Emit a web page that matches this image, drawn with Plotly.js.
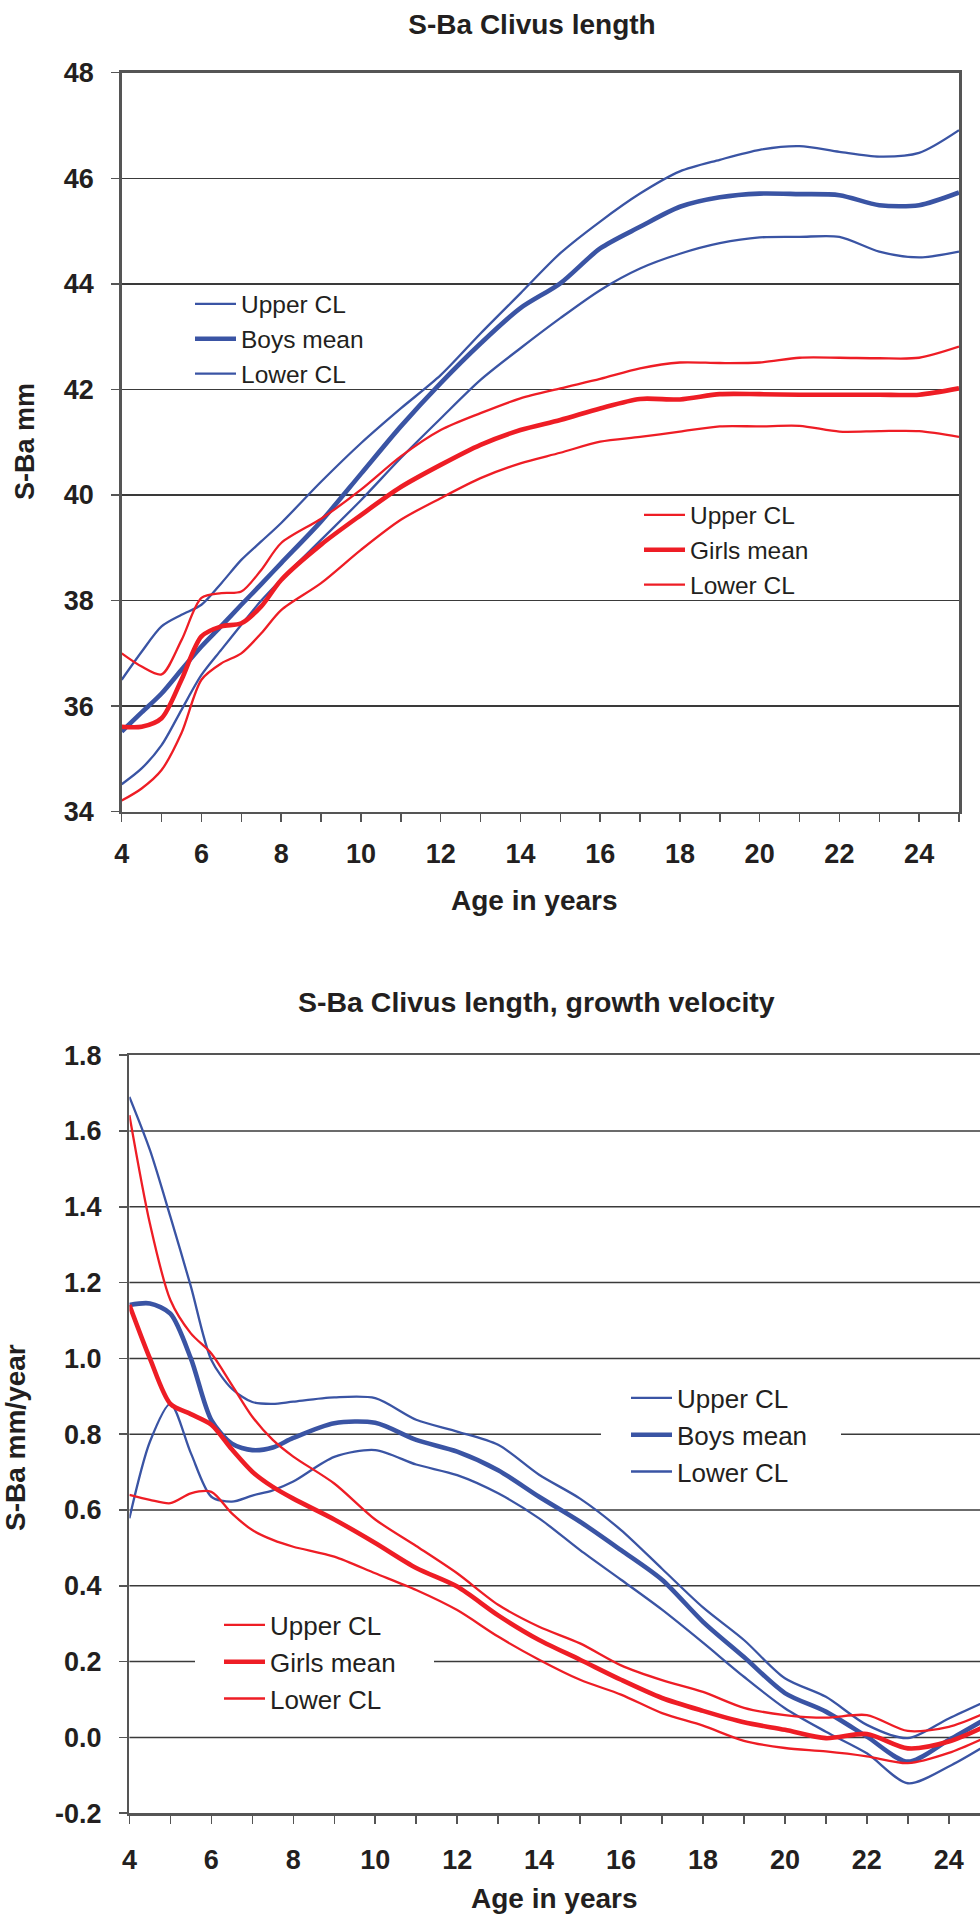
<!DOCTYPE html>
<html>
<head>
<meta charset="utf-8">
<script src="https://cdn.plot.ly/plotly-3.0.1.min.js"></script>
<style>
  html, body { margin: 0; padding: 0; background: #ffffff; }
  #chart { width: 980px; height: 1915px; }
</style>
</head>
<body>
<div id="chart"></div>
<script>
// ---- Data ----
const ages = [4, 4.5, 5, 5.5, 6, 6.5, 7, 7.5, 8, 9, 10, 11, 12, 13, 14, 15, 16, 17, 18, 19, 20, 21, 22, 23, 24, 25];

// S-Ba Clivus length (mm)
const boysUpper  = [36.5, 37.03, 37.51, 37.73, 37.92, 38.33, 38.77, 39.12, 39.47, 40.25, 40.98, 41.64, 42.27, 43.06, 43.82, 44.58, 45.18, 45.71, 46.13, 46.35, 46.54, 46.61, 46.5, 46.41, 46.48, 46.91];
const boysMean   = [35.52, 35.88, 36.24, 36.69, 37.13, 37.52, 37.92, 38.31, 38.71, 39.5, 40.4, 41.3, 42.12, 42.87, 43.54, 44.01, 44.67, 45.08, 45.46, 45.64, 45.71, 45.7, 45.68, 45.49, 45.49, 45.73];
const boysLower  = [34.52, 34.82, 35.26, 35.93, 36.59, 37.07, 37.54, 38.0, 38.4, 39.15, 39.9, 40.7, 41.45, 42.18, 42.78, 43.35, 43.88, 44.29, 44.57, 44.77, 44.88, 44.89, 44.89, 44.61, 44.5, 44.61];
const girlsUpper = [37.0, 36.75, 36.6, 37.25, 38.05, 38.14, 38.17, 38.58, 39.09, 39.55, 40.1, 40.73, 41.23, 41.55, 41.83, 42.02, 42.2, 42.4, 42.51, 42.5, 42.51, 42.6, 42.6, 42.59, 42.6, 42.81];
const girlsMean  = [35.61, 35.61, 35.77, 36.5, 37.32, 37.51, 37.57, 37.89, 38.39, 39.06, 39.62, 40.15, 40.57, 40.95, 41.23, 41.42, 41.64, 41.82, 41.81, 41.91, 41.91, 41.9, 41.9, 41.9, 41.9, 42.02];
const girlsLower = [34.21, 34.44, 34.79, 35.49, 36.5, 36.81, 37.0, 37.38, 37.82, 38.33, 38.96, 39.53, 39.94, 40.32, 40.6, 40.8, 41.01, 41.1, 41.2, 41.3, 41.3, 41.31, 41.2, 41.21, 41.21, 41.1];

// Growth velocity (mm/year)
const velBoysUpper  = [1.69, 1.55, 1.374, 1.19, 0.996, 0.92, 0.885, 0.88, 0.886, 0.897, 0.895, 0.838, 0.807, 0.772, 0.693, 0.63, 0.547, 0.445, 0.343, 0.257, 0.156, 0.107, 0.033, -0.002, 0.05, 0.1];
const velBoysMean   = [1.141, 1.145, 1.118, 1.0, 0.837, 0.775, 0.758, 0.765, 0.79, 0.829, 0.83, 0.785, 0.754, 0.705, 0.635, 0.569, 0.494, 0.416, 0.305, 0.212, 0.117, 0.068, 0.002, -0.064, -0.007, 0.055];
const velBoysLower  = [0.578, 0.78, 0.88, 0.75, 0.635, 0.622, 0.638, 0.652, 0.675, 0.74, 0.758, 0.72, 0.692, 0.644, 0.578, 0.494, 0.416, 0.337, 0.25, 0.16, 0.077, 0.015, -0.042, -0.121, -0.077, -0.015];
const velGirlsUpper = [1.642, 1.356, 1.154, 1.066, 1.013, 0.93, 0.846, 0.785, 0.741, 0.67, 0.575, 0.505, 0.433, 0.35, 0.292, 0.248, 0.19, 0.151, 0.12, 0.078, 0.059, 0.052, 0.059, 0.017, 0.028, 0.07];
const velGirlsMean  = [1.141, 1.0, 0.88, 0.853, 0.825, 0.76, 0.701, 0.661, 0.63, 0.575, 0.513, 0.447, 0.398, 0.322, 0.257, 0.205, 0.152, 0.104, 0.07, 0.04, 0.02, -0.002, 0.009, -0.029, -0.011, 0.035];
const velGirlsLower = [0.64, 0.627, 0.618, 0.644, 0.648, 0.591, 0.547, 0.521, 0.503, 0.477, 0.433, 0.389, 0.336, 0.266, 0.205, 0.152, 0.113, 0.064, 0.031, -0.009, -0.028, -0.037, -0.05, -0.068, -0.041, 0.005];

// Tick labels
const xTickVals = [4, 6, 8, 10, 12, 14, 16, 18, 20, 22, 24];
const xTickText = ['4', '6', '8', '10', '12', '14', '16', '18', '20', '22', '24'];
const lenTickVals = [34, 36, 38, 40, 42, 44, 46, 48];
const lenTickText = ['34', '36', '38', '40', '42', '44', '46', '48'];
const velTickVals = [-0.2, 0, 0.2, 0.4, 0.6, 0.8, 1.0, 1.2, 1.4, 1.6, 1.8];
const velTickText = ['-0.2', '0.0', '0.2', '0.4', '0.6', '0.8', '1.0', '1.2', '1.4', '1.6', '1.8'];

// ---- Styles ----
const BLUE = '#3a54a4';
const RED = '#ee1d25';
const TXT = '#231f20';
const GRID = '#3a3a3a';
const FONT = 'Liberation Sans, Arial, Helvetica, sans-serif';
const THIN = 2.3, THICK = 4.6;

function tr(y, name, color, width, xa, ya, legend, group) {
  return {
    x: ages, y: y, name: name, type: 'scatter', mode: 'lines',
    line: { color: color, width: width, shape: 'spline', smoothing: 0.8 },
    xaxis: xa, yaxis: ya, legend: legend, legendgroup: group,
    hoverinfo: 'skip'
  };
}

const data = [
  tr(boysUpper, 'Upper CL', BLUE, THIN, 'x', 'y', 'legend', 'a1'),
  tr(boysMean, 'Boys mean', BLUE, THICK, 'x', 'y', 'legend', 'a2'),
  tr(boysLower, 'Lower CL', BLUE, THIN, 'x', 'y', 'legend', 'a3'),
  tr(girlsUpper, 'Upper CL', RED, THIN, 'x', 'y', 'legend2', 'b1'),
  tr(girlsMean, 'Girls mean', RED, THICK, 'x', 'y', 'legend2', 'b2'),
  tr(girlsLower, 'Lower CL', RED, THIN, 'x', 'y', 'legend2', 'b3'),
  tr(velBoysUpper, 'Upper CL', BLUE, THIN, 'x2', 'y2', 'legend3', 'c1'),
  tr(velBoysMean, 'Boys mean', BLUE, THICK, 'x2', 'y2', 'legend3', 'c2'),
  tr(velBoysLower, 'Lower CL', BLUE, THIN, 'x2', 'y2', 'legend3', 'c3'),
  tr(velGirlsUpper, 'Upper CL', RED, THIN, 'x2', 'y2', 'legend4', 'd1'),
  tr(velGirlsMean, 'Girls mean', RED, THICK, 'x2', 'y2', 'legend4', 'd2'),
  tr(velGirlsLower, 'Lower CL', RED, THIN, 'x2', 'y2', 'legend4', 'd3')
];

const W = 980, H = 1915;
const px = v => v / W;
const py = v => 1 - v / H;

const tickFont = { family: FONT, size: 27, color: TXT, weight: 700 };

function xAxis(domain, range, standoff, anchor) {
  return {
    domain: domain, range: range, anchor: anchor,
    tickvals: xTickVals, ticktext: xTickText,
    ticks: 'outside', ticklen: 8, tickwidth: 1.5, tickcolor: '#555555',
    minor: { dtick: 1, tick0: 4, ticks: 'outside', ticklen: 8, tickwidth: 1.5, tickcolor: '#555555', showgrid: false },
    showline: true, linecolor: '#555555', linewidth: 2.5, mirror: true,
    showgrid: false, zeroline: false,
    tickfont: tickFont, ticklabelstandoff: standoff, fixedrange: true
  };
}
function yAxis(domain, range, vals, text, anchor, mirror, grid) {
  return {
    domain: domain, range: range, anchor: anchor,
    tickvals: vals, ticktext: text,
    ticks: 'outside', ticklen: 8, tickwidth: 1.5, tickcolor: '#555555',
    showline: true, linecolor: '#555555', linewidth: 2.5, mirror: mirror,
    showgrid: grid, gridcolor: GRID, gridwidth: 1.5, zeroline: false,
    tickfont: tickFont, ticklabelstandoff: 12, fixedrange: true
  };
}

function legendObj(x, y, size, gap) {
  return {
    x: px(x), y: py(y), xanchor: 'left', yanchor: 'middle',
    xref: 'paper', yref: 'paper',
    bgcolor: 'rgba(0,0,0,0)', borderwidth: 0,
    font: { family: FONT, size: size, color: TXT },
    tracegroupgap: gap, traceorder: 'normal',
    itemwidth: 41,
    itemclick: false, itemdoubleclick: false
  };
}

// Velocity-chart gridlines, interrupted where the two legends sit (as in the original)
const x2Left = 129.4, x2Width = 980 - 129.4;
const dom = v => (v - x2Left) / x2Width;
const legendGaps = { '0.8': [601, 841], '0.2': [195, 434] };
const gridShapes = [];
velTickVals.forEach(v => {
  if (v <= -0.2 || v >= 1.8) return; // coincide with axis lines
  const key = v.toFixed(1);
  const segs = legendGaps[key] ? [[0, dom(legendGaps[key][0])], [dom(legendGaps[key][1]), 1]] : [[0, 1]];
  segs.forEach(s => gridShapes.push({
    type: 'line', layer: 'below', xref: 'x2 domain', yref: 'y2',
    x0: s[0], x1: s[1], y0: v, y1: v,
    line: { color: GRID, width: 1.5 }
  }));
});

const layout = {
  width: W, height: H,
  margin: { l: 0, r: 0, t: 0, b: 0, pad: 0 },
  paper_bgcolor: '#ffffff', plot_bgcolor: '#ffffff',
  font: { family: FONT, color: TXT },
  title: {
    text: 'S-Ba Clivus length',
    font: { family: FONT, size: 28, color: TXT, weight: 700 },
    x: px(532), xanchor: 'center', y: py(24), yanchor: 'middle',
    xref: 'paper', yref: 'container'
  },
  xaxis: xAxis([px(121.7), px(959)], [4, 25], 8, 'y'),
  yaxis: yAxis([py(811.7), py(72.7)], [34, 48], lenTickVals, lenTickText, 'x', true, true),
  xaxis2: xAxis([px(129.4), 1], [4, 4 + (980 - 129.4) / 40.97], 13, 'y2'),
  yaxis2: yAxis([py(1813.2), py(1055.2)], [-0.2, 1.8], velTickVals, velTickText, 'x2', false, false),
  legend:  legendObj(190, 339, 24.5, 0),
  legend2: legendObj(639, 550, 24.5, 0),
  legend3: legendObj(626, 1435, 26, 3),
  legend4: legendObj(219, 1662, 26, 3),
  showlegend: true,
  shapes: gridShapes,
  annotations: [
    { text: 'S-Ba Clivus length, growth velocity', xref: 'paper', yref: 'paper',
      x: px(536.5), y: py(1002), xanchor: 'center', yanchor: 'middle', showarrow: false,
      font: { family: FONT, size: 28.5, color: TXT, weight: 700 } },
    { text: 'Age in years', xref: 'paper', yref: 'paper',
      x: px(534), y: py(900), xanchor: 'center', yanchor: 'middle', showarrow: false,
      font: { family: FONT, size: 28, color: TXT, weight: 700 } },
    { text: 'Age in years', xref: 'paper', yref: 'paper',
      x: px(554.5), y: py(1898), xanchor: 'center', yanchor: 'middle', showarrow: false,
      font: { family: FONT, size: 28, color: TXT, weight: 700 } },
    { text: 'S-Ba mm', xref: 'paper', yref: 'paper', textangle: -90,
      x: px(25), y: py(442), xanchor: 'center', yanchor: 'middle', showarrow: false,
      font: { family: FONT, size: 27, color: TXT, weight: 700 } },
    { text: 'S-Ba mm/year', xref: 'paper', yref: 'paper', textangle: -90,
      x: px(15), y: py(1438), xanchor: 'center', yanchor: 'middle', showarrow: false,
      font: { family: FONT, size: 28, color: TXT, weight: 700 } }
  ]
};

Plotly.newPlot('chart', data, layout, { displayModeBar: false, staticPlot: true });
</script>
</body>
</html>
